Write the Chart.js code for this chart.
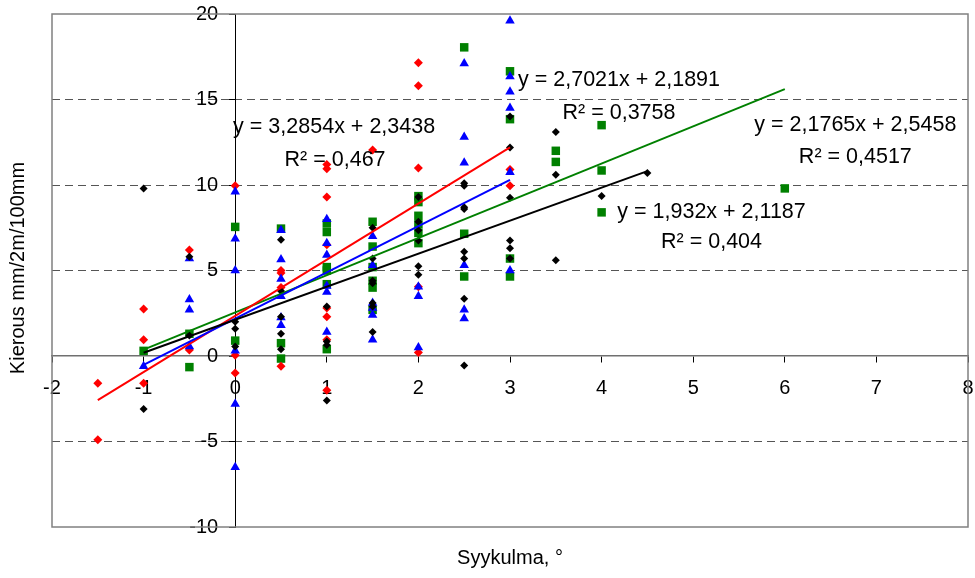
<!DOCTYPE html>
<html>
<head>
<meta charset="utf-8">
<script src="https://cdn.jsdelivr.net/npm/chart.js@4.4.0/dist/chart.umd.min.js"></script>
<style>
html,body{margin:0;padding:0;background:#fff;}
#wrap{width:975px;height:578px;position:relative;}
</style>
</head>
<body>
<div id="wrap"><canvas id="c" width="975" height="578"></canvas></div>
<script>
const FONT = '"Liberation Sans", Arial, Helvetica, sans-serif';

// ---- tick labels ----
const xTickValues = [-2, -1, 0, 1, 2, 3, 4, 5, 6, 7, 8];
const yTickValues = [-10, -5, 0, 5, 10, 15, 20];
const xTitle = 'Syykulma, °';
const yTitle = 'Kierous mm/2m/100mm';

// ---- series: black diamonds ----
const blackX = [-1, -1, -0.5, -0.5, 0, 0, 0, 0.5, 0.5, 0.5, 0.5, 0.5, 1, 1, 1, 1,
  1.5, 1.5, 1.5, 1.5, 1.5, 1.5, 1.5, 2, 2, 2, 2, 2, 2,
  2.5, 2.5, 2.5, 2.5, 2.5, 2.5, 2.5, 2.5, 3, 3, 3, 3, 3, 3, 3.5, 3.5, 3.5, 4, 4.5];
const blackY = [9.8, -3.1, 5.8, 1.2, 2.0, 1.6, 0.55, 6.8, 3.8, 2.3, 1.3, 0.4, 2.9, 0.85, 0.65, -2.6,
  7.5, 5.7, 4.4, 4.25, 3.1, 2.9, 1.4, 9.3, 7.85, 7.35, 6.75, 5.25, 4.75,
  10.1, 9.95, 8.7, 8.6, 6.1, 5.7, 3.35, -0.55, 14.0, 12.2, 9.25, 6.75, 6.3, 5.7, 13.1, 10.6, 5.6, 9.35, 10.7];

// ---- series: red diamonds ----
const redX = [-1.5, -1.5, -1, -1, -1, -0.5, -0.5, 0, 0, 0, 0.5, 0.5, 0.5, 0.5,
  1, 1, 1, 1, 1, 1, 1, 1, 1.5, 2, 2, 2, 2, 2, 3, 3];
const redY = [-1.6, -4.9, 2.75, 0.95, -1.6, 6.2, 0.35, 9.95, 0.05, -1.0, 5.0, 4.85, 4.0, -0.6,
  11.2, 10.95, 9.3, 6.5, 2.8, 2.3, 0.95, -2.0, 12.05, 17.15, 15.8, 11.0, 4.05, 0.2, 10.9, 9.95];

// ---- series: blue triangles ----
const blueX = [-1, -0.5, -0.5, -0.5, -0.5, 0, 0, 0, 0, 0, 0, 0.5, 0.5, 0.5, 0.5, 0.5, 0.5,
  1, 1, 1, 1, 1, 1, 1.5, 1.5, 1.5, 1.5, 1.5, 1.5, 2, 2, 2,
  2.5, 2.5, 2.5, 2.5, 2.5, 2.5, 3, 3, 3, 3, 3, 3];
const blueY = [-0.6, 5.7, 3.3, 2.7, 0.55, 9.6, 6.85, 5.0, 0.3, -2.8, -6.5, 7.35, 5.65, 4.5, 3.5, 2.25, 1.8,
  8.0, 6.6, 5.9, 4.1, 3.75, 1.4, 7.0, 5.3, 3.1, 2.8, 2.4, 0.95, 4.05, 3.5, 0.5,
  17.1, 12.8, 11.3, 5.3, 2.7, 2.2, 19.6, 16.35, 15.45, 14.5, 10.75, 5.0];

// ---- series: green squares ----
const greenX = [-1, -0.5, -0.5, 0, 0, 0.5, 0.5, 0.5, 1, 1, 1, 1, 1, 1,
  1.5, 1.5, 1.5, 1.5, 1.5, 1.5, 2, 2, 2, 2, 2, 2, 2.5, 2.5, 2.5,
  3, 3, 3, 3, 3.5, 3.5, 4, 4, 4, 6];
const greenY = [0.3, 1.3, -0.65, 7.55, 0.9, 7.45, 0.75, -0.15, 7.75, 7.25, 5.2, 5.0, 4.2, 0.4,
  7.85, 6.4, 5.2, 4.4, 4.0, 2.7, 9.35, 9.0, 8.2, 7.7, 7.2, 6.6, 18.05, 7.15, 4.65,
  16.65, 13.85, 5.7, 4.65, 12.0, 11.35, 13.5, 10.85, 8.4, 9.8];

// ---- linear trend lines (order: black, blue, red, green) ----
const trendSlope     = [1.932, 2.7021, 3.2854, 2.1765];
const trendIntercept = [2.1187, 2.1891, 2.3438, 2.5458];
const trendFromX     = [-1, -1, -1.5, -1];
const trendToX       = [4.5, 3, 3, 6];
const trendEquation  = ['y = 1,932x + 2,1187', 'y = 2,7021x + 2,1891', 'y = 3,2854x + 2,3438', 'y = 2,1765x + 2,5458'];
const trendR2        = ['R² = 0,404', 'R² = 0,3758', 'R² = 0,467', 'R² = 0,4517'];

// ---- styles / placement ----
const trendColors = ['#000000', '#0000FF', '#FF0000', '#008000'];
// label anchor positions (data coordinates) for equation and R² lines
const eqPos = [{x: 5.2, y: 8.42}, {x: 4.19, y: 16.14}, {x: 1.08, y: 13.39}, {x: 6.77, y: 13.51}];
const r2Pos = [{x: 5.2, y: 6.67}, {x: 4.19, y: 14.21}, {x: 1.09, y: 11.46}, {x: 6.77, y: 11.64}];

const pts = (xs, ys) => xs.map((x, i) => ({x: x, y: ys[i]}));

const trendDatasets = trendSlope.map((m, i) => ({
  type: 'line',
  data: [
    {x: trendFromX[i], y: m * trendFromX[i] + trendIntercept[i]},
    {x: trendToX[i], y: m * trendToX[i] + trendIntercept[i]}
  ],
  borderColor: trendColors[i],
  borderWidth: 2,
  pointRadius: 0,
  fill: false,
  showLine: true
}));

const scatterDatasets = [
  {data: pts(blackX, blackY), pointStyle: 'rectRot', pointRadius: 4, backgroundColor: '#000000', borderColor: '#000000', borderWidth: 0},
  {data: pts(blueX, blueY), pointStyle: 'triangle', pointRadius: 5.5, backgroundColor: '#0000FF', borderColor: '#0000FF', borderWidth: 0},
  {data: pts(redX, redY), pointStyle: 'rectRot', pointRadius: 4.5, backgroundColor: '#FF0000', borderColor: '#FF0000', borderWidth: 0},
  {data: pts(greenX, greenY), pointStyle: 'rect', pointRadius: 6, backgroundColor: '#008000', borderColor: '#008000', borderWidth: 0}
];

const zeroPad = s => { s.paddingLeft = 0; s.paddingRight = 0; s.paddingTop = 0; s.paddingBottom = 0; };

const textPlugin = {
  id: 'textPlugin',
  beforeDraw(chart) {
    // shift y tick labels left of the axis
    const ys = chart.scales.y;
    const items = ys.getLabelItems();
    if (!ys._shifted) {
      items.forEach(it => { it.options.translation[0] -= 17; });
      ys._shifted = true;
    }
  },
  afterDraw(chart) {
    const ctx = chart.ctx;
    const sx = chart.scales.x, sy = chart.scales.y;
    ctx.save();
    ctx.fillStyle = '#000';
    ctx.textAlign = 'center';
    ctx.textBaseline = 'middle';
    ctx.font = '21.5px ' + FONT;
    for (let i = 0; i < trendEquation.length; i++) {
      ctx.fillText(trendEquation[i], sx.getPixelForValue(eqPos[i].x), sy.getPixelForValue(eqPos[i].y));
      ctx.fillText(trendR2[i], sx.getPixelForValue(r2Pos[i].x), sy.getPixelForValue(r2Pos[i].y));
    }
    ctx.font = '20px ' + FONT;
    ctx.fillText(xTitle, 510, 558);
    ctx.translate(18, 268);
    ctx.rotate(-Math.PI / 2);
    ctx.fillText(yTitle, 0, 0);
    ctx.restore();
  },
  beforeDatasetsDraw(chart) {
    const a = chart.chartArea;
    const ctx = chart.ctx;
    ctx.save();
    ctx.strokeStyle = '#808080';
    ctx.lineWidth = 1.5;
    ctx.strokeRect(a.left, a.top, a.right - a.left, a.bottom - a.top);
    ctx.restore();
  }
};

new Chart(document.getElementById('c'), {
  type: 'scatter',
  data: {datasets: [...trendDatasets, ...scatterDatasets]},
  options: {
    responsive: false,
    animation: false,
    devicePixelRatio: 1,
    layout: {padding: {left: 52, top: 14, right: 7, bottom: 51}},
    plugins: {legend: {display: false}, tooltip: {enabled: false}},
    scales: {
      x: {
        type: 'linear', min: -2, max: 8, position: {y: 0},
        afterBuildTicks: s => { s.ticks = xTickValues.map(v => ({value: v})); },
        afterFit: zeroPad,
        ticks: {color: '#000', font: {family: FONT, size: 20}, padding: 14, maxRotation: 0, autoSkip: false},
        grid: {color: 'rgba(0,0,0,0)', tickColor: '#000', tickLength: 6, lineWidth: 1},
        border: {display: true, color: '#707070', width: 1.5}
      },
      y: {
        type: 'linear', min: -10, max: 20, position: {x: 0},
        afterBuildTicks: s => { s.ticks = yTickValues.map(v => ({value: v})); },
        afterFit: zeroPad,
        ticks: {color: '#000', font: {family: FONT, size: 20}, padding: 8, autoSkip: false},
        grid: {
          color: c => (c.tick && (c.tick.value === 0 || c.tick.value === 20 || c.tick.value === -10)) ? 'rgba(0,0,0,0)' : '#555555',
          tickColor: '#000', tickLength: 6, lineWidth: 1
        },
        border: {display: true, color: '#000', width: 1, dash: [8, 5]}
      }
    }
  },
  plugins: [textPlugin]
});
</script>
</body>
</html>
